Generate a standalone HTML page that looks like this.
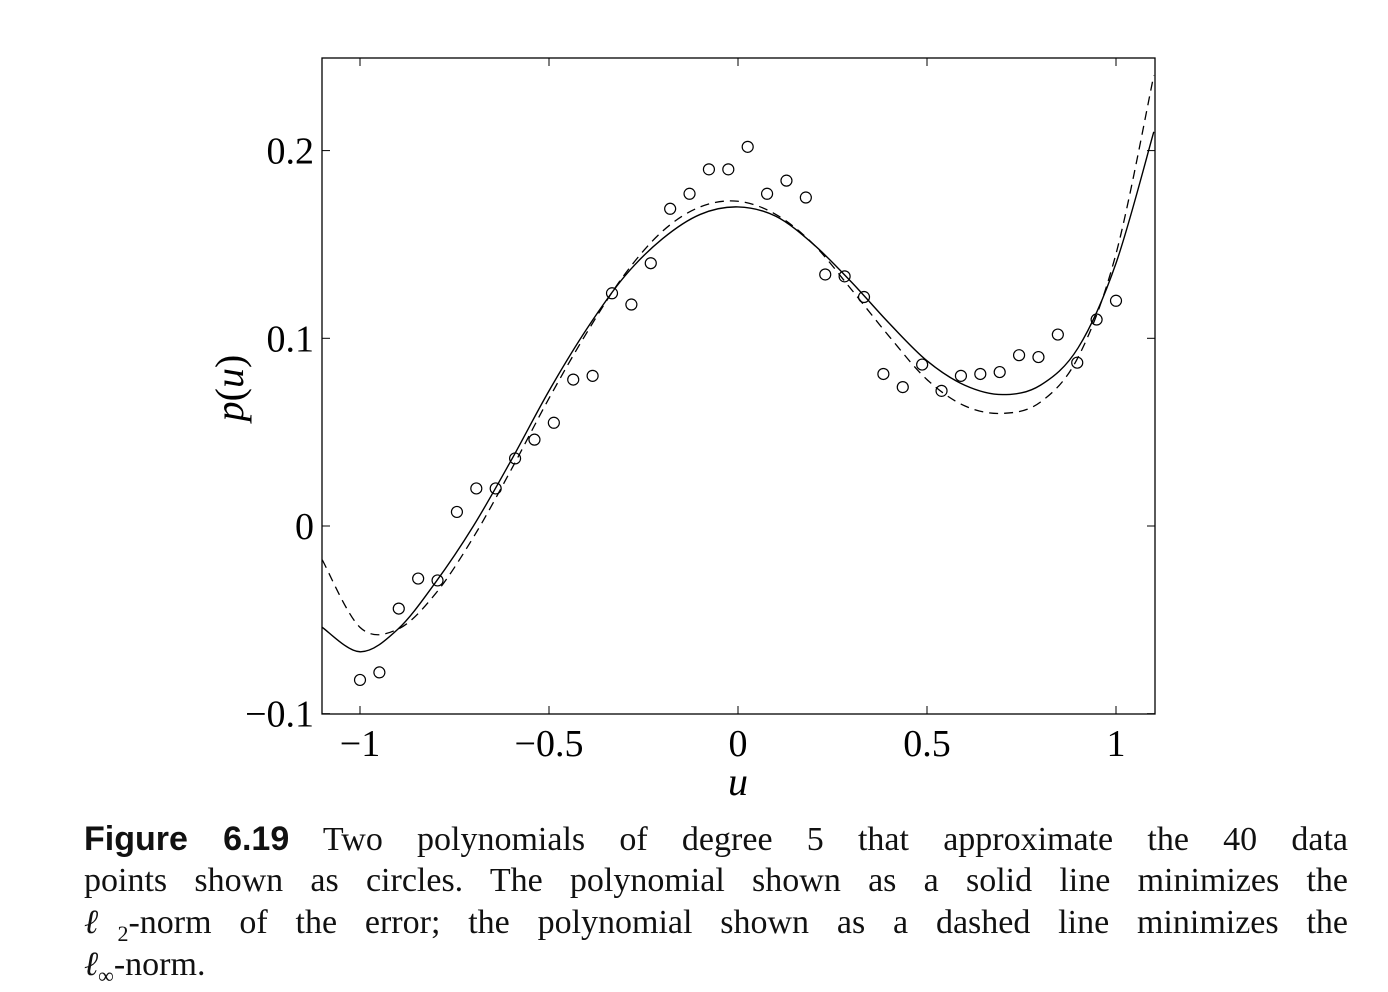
<!DOCTYPE html>
<html><head><meta charset="utf-8">
<style>
body{margin:0;background:#fff;width:1388px;height:992px;overflow:hidden;position:relative;font-family:"Liberation Serif",serif;}
#cap{position:absolute;left:84px;top:818px;width:1264px;font-size:34px;line-height:42px;color:#111;}
#cap div{text-align:justify;text-align-last:justify;white-space:nowrap;height:42px;}
#cap div.last{text-align-last:left;}
#cap b{font-family:"Liberation Sans",sans-serif;font-weight:bold;}
.sb{font-size:22px;position:relative;top:8px;}
</style></head><body>
<svg id="chart" width="1388" height="810" style="position:absolute;left:0;top:0" xmlns="http://www.w3.org/2000/svg"></svg>
<div id="cap">
<div><b>Figure 6.19</b> Two polynomials of degree 5 that approximate the 40 data</div>
<div>points shown as circles. The polynomial shown as a solid line minimizes the</div>
<div><i>ℓ</i><span class="sb">2</span>-norm of the error; the polynomial shown as a dashed line minimizes the</div>
<div class="last"><i>ℓ</i><span class="sb">∞</span>-norm.</div>
</div>
<script>
const dataY=[-0.082,-0.078,-0.044,-0.028,-0.029,0.0075,0.020,0.020,0.036,0.046,0.055,0.078,0.080,0.124,0.118,0.140,0.169,0.177,0.190,0.190,0.202,0.177,0.184,0.175,0.134,0.133,0.122,0.081,0.074,0.086,0.072,0.080,0.081,0.082,0.091,0.090,0.102,0.087,0.110,0.120];
const curveU=[-1.1,-1.0,-0.9,-0.8,-0.7,-0.6,-0.5,-0.4,-0.3,-0.2,-0.1,0,0.1,0.2,0.3,0.4,0.5,0.6,0.7,0.8,0.9,1.0,1.1];
const solidY=[-0.054,-0.067,-0.055,-0.030,0.000,0.035,0.072,0.105,0.133,0.153,0.166,0.170,0.165,0.150,0.130,0.108,0.088,0.075,0.070,0.075,0.095,0.140,0.210];
const dashedY=[-0.018,-0.054,-0.055,-0.036,-0.006,0.030,0.068,0.103,0.134,0.157,0.170,0.173,0.166,0.150,0.126,0.101,0.078,0.064,0.060,0.066,0.090,0.145,0.240];
const xTicks=[-1,-0.5,0,0.5,1], xLabels=["\u22121","\u22120.5","0","0.5","1"];
const yTicks=[-0.1,0,0.1,0.2], yLabels=["\u22120.1","0","0.1","0.2"];
const X0=322,X1=1155,Y0=58,Y1=714;
const sx=u=>738+u*378, sy=v=>526-v*1877;
const svg=document.getElementById('chart'),NS="http://www.w3.org/2000/svg";
function mk(t,a,p){const e=document.createElementNS(NS,t);for(const k in a)e.setAttribute(k,a[k]);(p||svg).appendChild(e);return e;}
const frame=mk('rect',{x:X0,y:Y0,width:X1-X0,height:Y1-Y0,fill:'none',stroke:'#000','stroke-width':1.3});


xTicks.forEach((t,i)=>{const x=sx(t);
 mk('line',{x1:x,x2:x,y1:Y1,y2:Y1-8,stroke:'#000'});mk('line',{x1:x,x2:x,y1:Y0,y2:Y0+8,stroke:'#000'});
 const tx=mk('text',{x:x,y:756,'text-anchor':'middle','font-size':38,'font-family':'Liberation Serif,serif'});tx.textContent=xLabels[i];
 
 });
yTicks.forEach((t,i)=>{const y=sy(t);
 mk('line',{x1:X0,x2:X0+8,y1:y,y2:y,stroke:'#000'});mk('line',{x1:X1,x2:X1-8,y1:y,y2:y,stroke:'#000'});
 const tx=mk('text',{x:314,y:y+13,'text-anchor':'end','font-size':38,'font-family':'Liberation Serif,serif'});tx.textContent=yLabels[i];
 
 });
const xl=mk('text',{x:738,y:795,'text-anchor':'middle','font-size':40,'font-style':'italic','font-family':'Liberation Serif,serif'});xl.textContent='u';


const yl=mk('text',{x:0,y:0,'text-anchor':'middle','font-size':40,'font-family':'Liberation Serif,serif',transform:'translate(243,388) rotate(-90)'});yl.innerHTML='<tspan font-style="italic">p</tspan>(<tspan font-style="italic">u</tspan>)';


const clip=mk('clipPath',{id:'cp'});mk('rect',{x:X0,y:Y0,width:X1-X0,height:Y1-Y0},clip);
function path(ys){const p=curveU.map((u,i)=>[sx(u),sy(ys[i])]);let d='M'+p[0][0]+','+p[0][1];
 for(let i=0;i<p.length-1;i++){const a=p[Math.max(i-1,0)],b=p[i],c=p[i+1],e=p[Math.min(i+2,p.length-1)];
 d+=` C${b[0]+(c[0]-a[0])/6},${b[1]+(c[1]-a[1])/6} ${c[0]-(e[0]-b[0])/6},${c[1]-(e[1]-b[1])/6} ${c[0]},${c[1]}`;}return d;}
const s=mk('path',{d:path(solidY),fill:'none',stroke:'#000','stroke-width':1.4,'clip-path':'url(#cp)'});


const dsh=mk('path',{d:path(dashedY),fill:'none',stroke:'#000','stroke-width':1.3,'stroke-dasharray':'9,6','clip-path':'url(#cp)'});


dataY.forEach((v,i)=>{const u=-1+i*2/39;
 const c=mk('circle',{cx:sx(u),cy:sy(v),r:5.5,fill:'none',stroke:'#000','stroke-width':1.2});
 
 });
</script>
</body></html>
